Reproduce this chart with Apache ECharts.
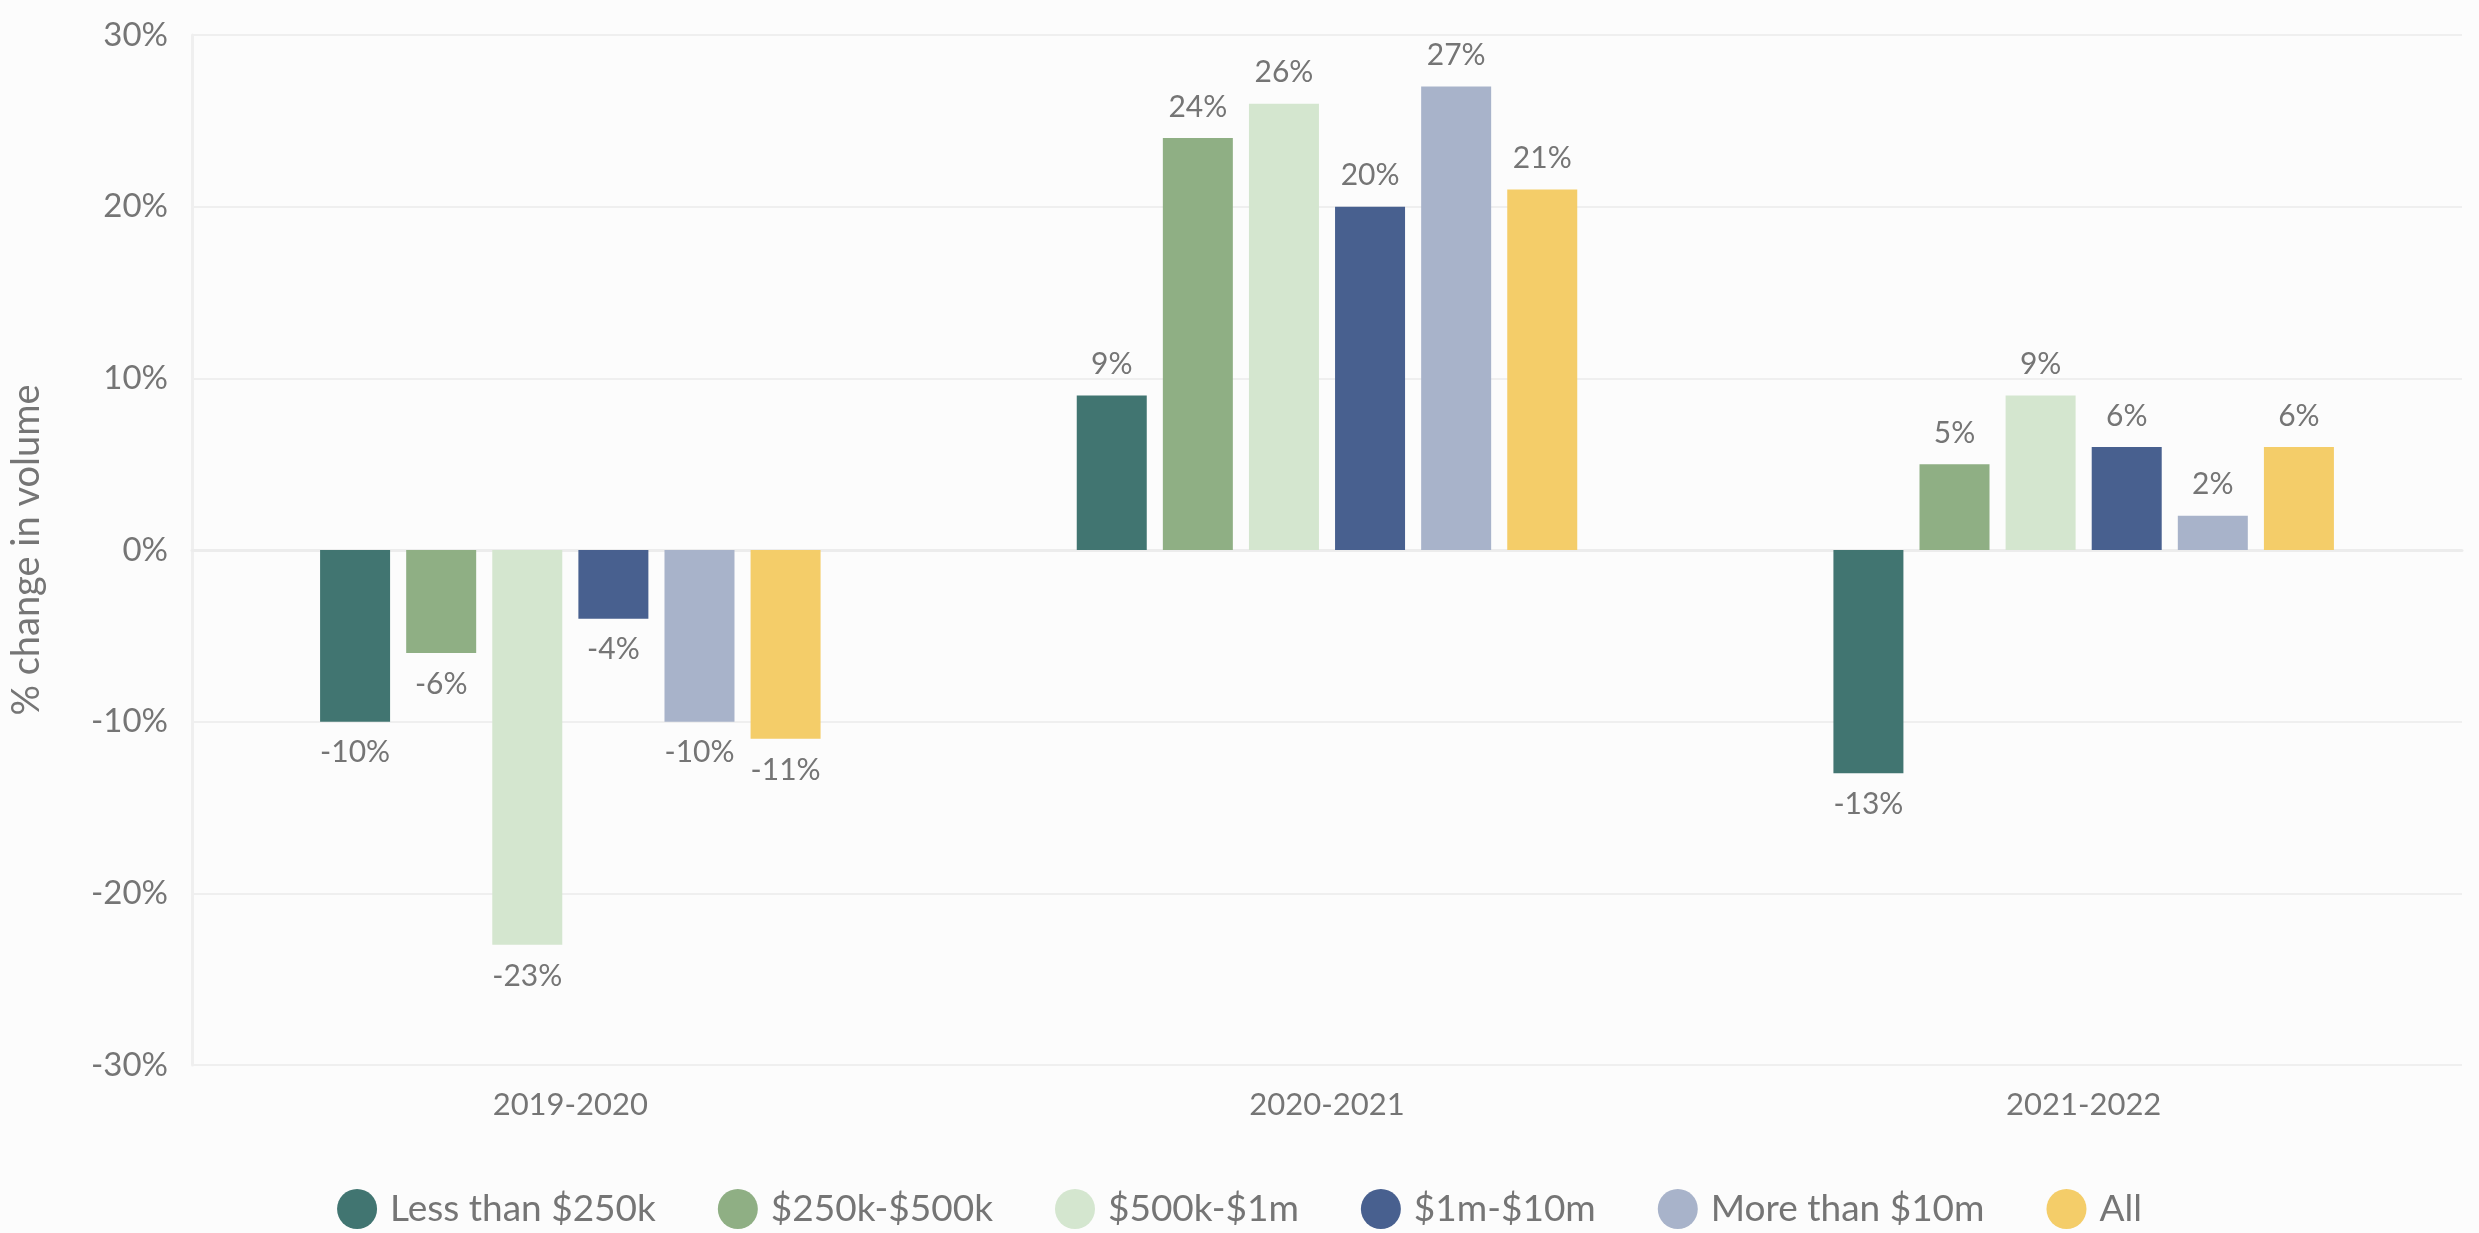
<!DOCTYPE html>
<html>
<head>
<meta charset="utf-8">
<script src="https://cdn.jsdelivr.net/npm/echarts@6/dist/echarts.min.js"></script>
<style>
  html, body { margin: 0; padding: 0; background: #fcfcfc; }
  #chart { width: 2479px; height: 1233px; }
</style>
</head>
<body>
<div id="chart"></div>
<script>
// periods on the x axis
const periods = ["2019-2020", "2020-2021", "2021-2022"];
// deal size buckets (legend)
const buckets = ["Less than $250k", "$250k-$500k", "$500k-$1m", "$1m-$10m", "More than $10m", "All"];
const colors = ["#417571", "#8faf84", "#d4e6cf", "#48608f", "#a8b3ca", "#f4cd69"];

// % change in volume, one array per bucket
const lessThan250k = [-10, 9, -13];
const from250kTo500k = [-6, 24, 5];
const from500kTo1m = [-23, 26, 9];
const from1mTo10m = [-4, 20, 6];
const moreThan10m = [-10, 27, 2];
const all = [-11, 21, 6];

const seriesValues = [lessThan250k, from250kTo500k, from500kTo1m, from1mTo10m, moreThan10m, all];

const yTicks = { min: -30, max: 30, interval: 10 };

const font = "Lato";
const textColor = "#757575";

const myChart = echarts.init(document.getElementById("chart"));

const option = {
  backgroundColor: "#fcfcfc",
  textStyle: { fontFamily: font },
  grid: {
    left: 191,
    right: 17,
    top: 35,
    bottom: 168,
  },
  legend: {
    top: 1184,
    left: "center",
    icon: "circle",
    itemWidth: 40,
    itemHeight: 40,
    itemGap: 62,
    textStyle: { fontSize: 37, color: textColor, fontFamily: font, padding: [0, 0, 0, 8] },
  },
  xAxis: {
    type: "category",
    data: periods,
    axisLine: { show: true, lineStyle: { color: "#ececec", width: 3 } },
    axisTick: { show: false },
    axisLabel: { fontSize: 31, color: textColor, margin: 24 },
  },
  yAxis: {
    type: "value",
    min: yTicks.min,
    max: yTicks.max,
    interval: yTicks.interval,
    name: "% change in volume",
    nameLocation: "middle",
    nameGap: 146,
    nameTextStyle: { fontSize: 38, color: textColor },
    axisLine: { show: true, lineStyle: { color: "#efefef", width: 3 } },
    axisTick: { show: false },
    splitLine: { lineStyle: { color: "#efefef", width: 2 } },
    axisLabel: {
      fontSize: 33,
      color: textColor,
      margin: 24,
      formatter: (v) => v + "%",
    },
  },
  series: buckets.map((name, i) => ({
    name: name,
    type: "bar",
    data: seriesValues[i],
    barWidth: 70,
    barGap: "23%",
    itemStyle: { color: colors[i] },
    label: {
      show: true,
      position: "outside",
      distance: 16,
      fontSize: 30,
      color: textColor,
      formatter: (p) => p.value + "%",
    },
  })),
};

myChart.setOption(option);

window.addEventListener("resize", () => myChart.resize());
</script>
</body>
</html>
